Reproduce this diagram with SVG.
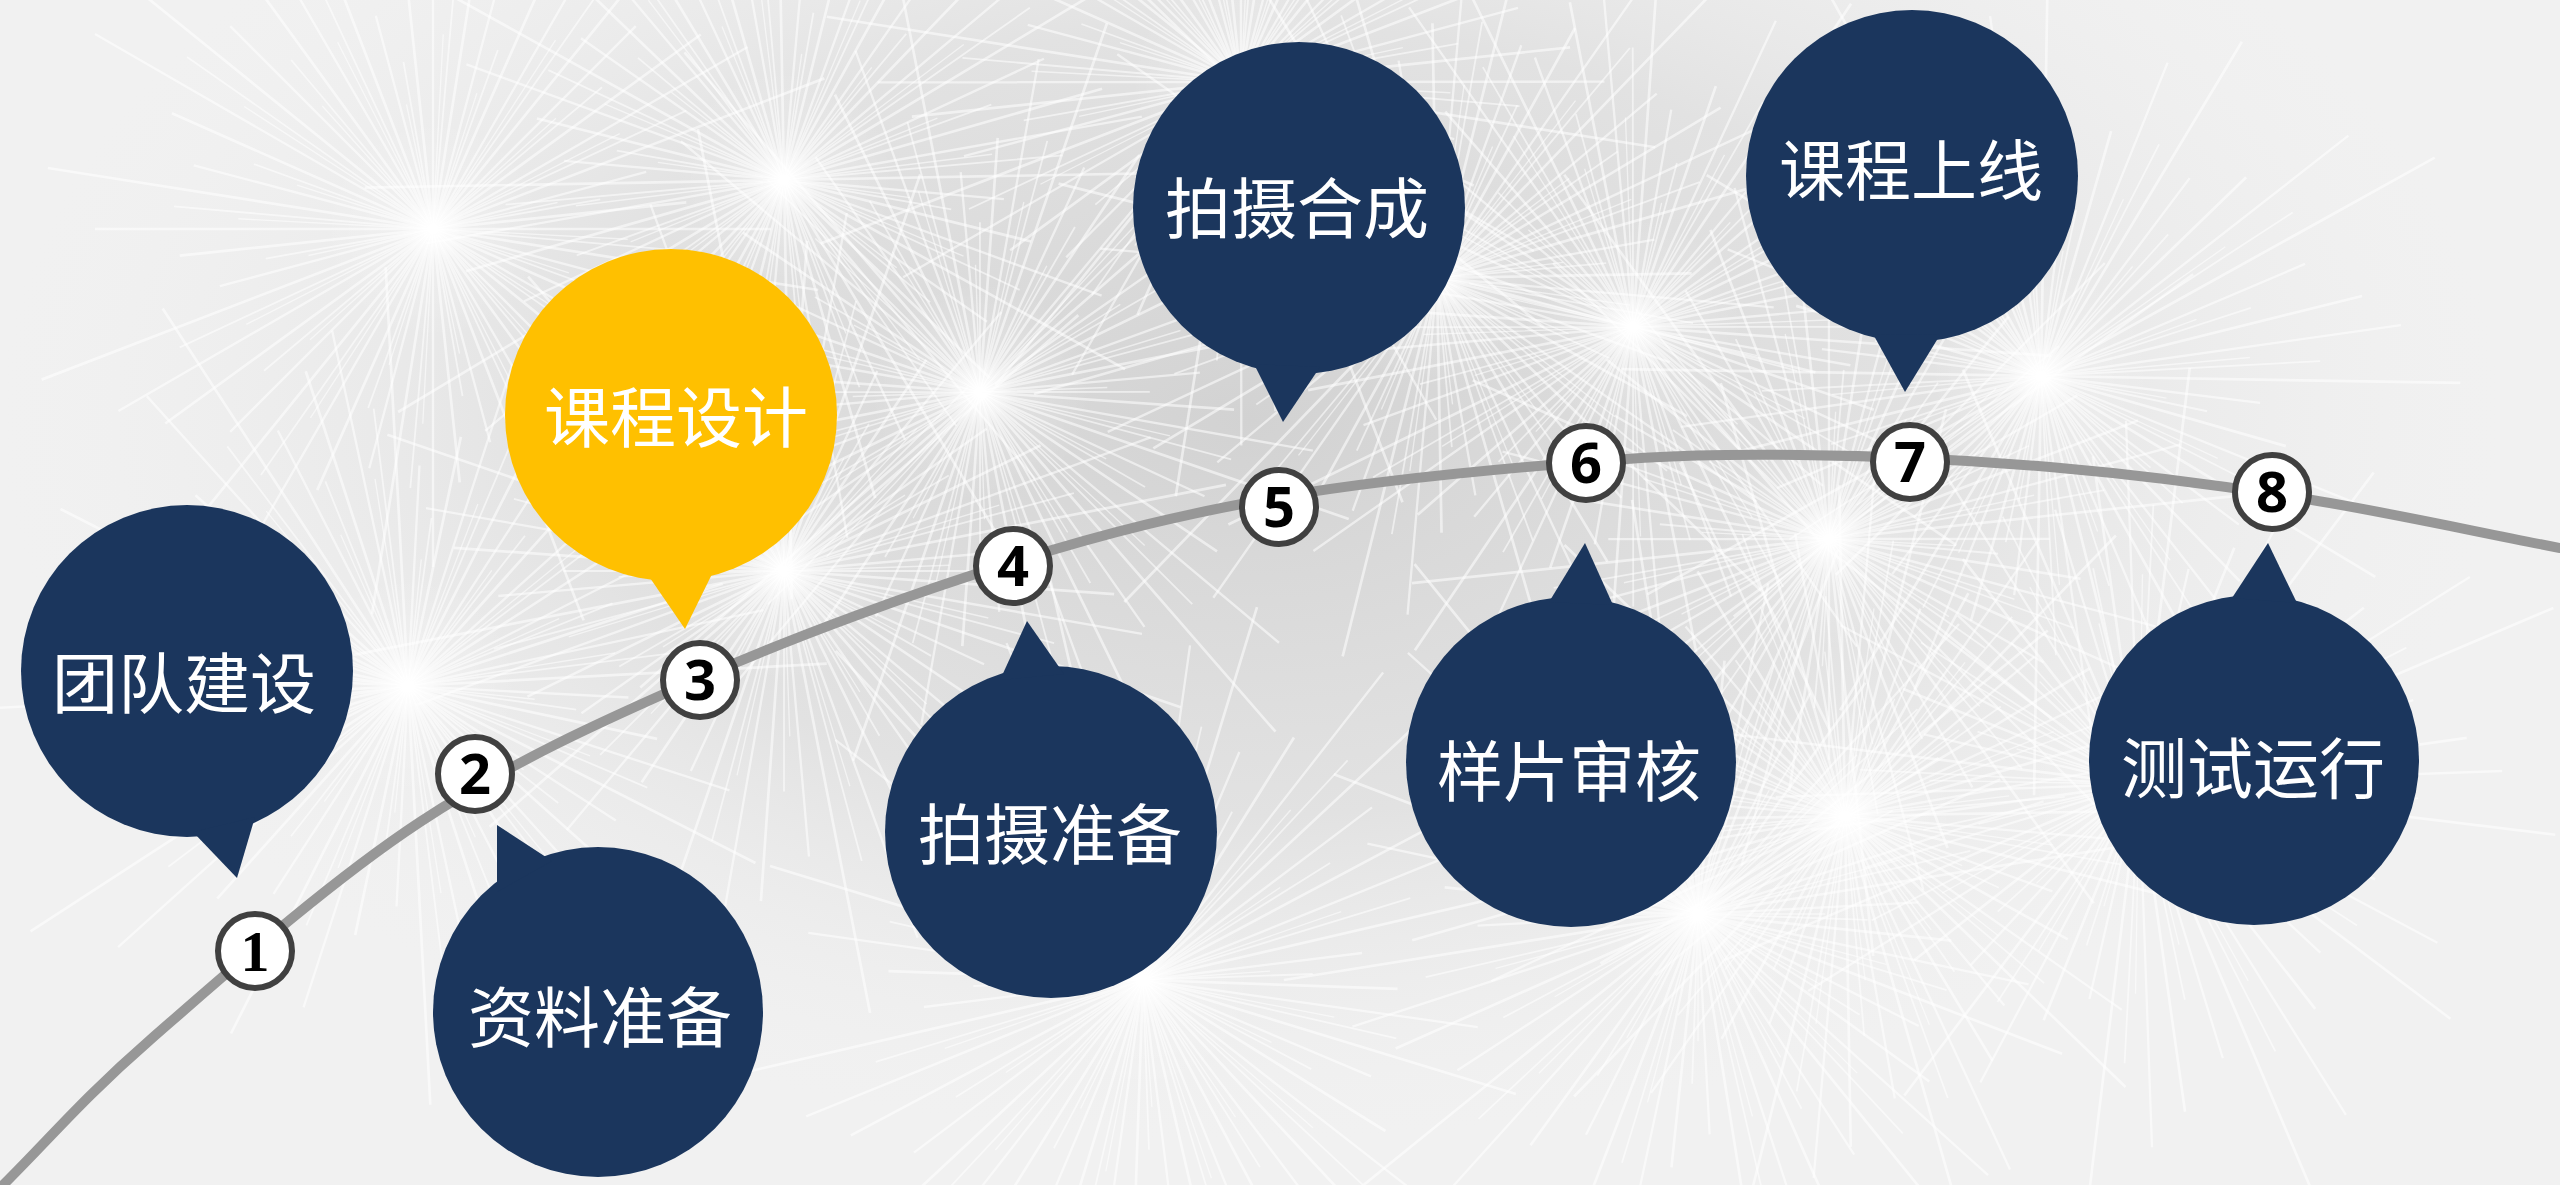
<svg xmlns="http://www.w3.org/2000/svg" xmlns:xlink="http://www.w3.org/1999/xlink" width="2560" height="1185" viewBox="0 0 2560 1185">
<style>
.bub{fill:#1b365d}
.bub.hl{fill:#ffc000}
.lbl{font-family:"Noto Sans CJK SC","Noto Sans",sans-serif;font-size:66px;fill:#ffffff;text-anchor:middle}
.dot{fill:#ffffff;stroke:#404040;stroke-width:6}
.num{font-family:"Open Sans","Liberation Sans",sans-serif;font-weight:700;font-size:56px;fill:#000000;text-anchor:middle}
.num1{font-family:"Liberation Serif",serif;font-weight:700;font-size:58px;fill:#000000;text-anchor:middle}
.track{fill:none;stroke:#979797;stroke-width:10;stroke-linecap:round}
.spk{fill:none;stroke:#ffffff;stroke-width:1.8;stroke-opacity:0.55}
</style>
<defs>
<radialGradient id="shade" cx="0.5" cy="0.5" r="0.5">
<stop offset="0" stop-color="#d2d2d2"/>
<stop offset="0.55" stop-color="#dddddd" stop-opacity="0.75"/>
<stop offset="1" stop-color="#eeeeee" stop-opacity="0"/>
</radialGradient>
<radialGradient id="glow" cx="0.5" cy="0.5" r="0.5">
<stop offset="0" stop-color="#ffffff" stop-opacity="0.7"/>
<stop offset="0.3" stop-color="#ffffff" stop-opacity="0.25"/>
<stop offset="1" stop-color="#ffffff" stop-opacity="0"/>
</radialGradient>
<path id="spokes" class="spk" d="M0,0L260,0M0,0L184,49M0,0L260,150M0,0L156,156M0,0L140,242M0,0L44,164M0,0L0,260M0,0L-49,184M0,0L-150,260M0,0L-156,156M0,0L-242,140M0,0L-164,44M0,0L-260,0M0,0L-184,-49M0,0L-260,-150M0,0L-156,-156M0,0L-140,-242M0,0L-44,-164M0,0L0,-260M0,0L49,-184M0,0L150,-260M0,0L156,-156M0,0L242,-140M0,0L164,-44"/>
<g id="burst">
<circle r="110" fill="url(#glow)"/>
<use xlink:href="#spokes" transform="scale(1.3)"/>
<use xlink:href="#spokes" transform="rotate(5) scale(1.0)"/>
<use xlink:href="#spokes" transform="rotate(9) scale(1.5)"/>
<use xlink:href="#spokes" transform="rotate(3) scale(0.75)"/>
</g>
</defs>

<g id="background">
<rect x="0" y="0" width="2560" height="1185" fill="#f1f1f1"/>
<ellipse cx="1250" cy="420" rx="1250" ry="720" fill="url(#shade)"/>
<use xlink:href="#burst" transform="translate(433,229)"/>
<use xlink:href="#burst" transform="translate(784,180) rotate(20)"/>
<use xlink:href="#burst" transform="translate(784,571) rotate(40)"/>
<use xlink:href="#burst" transform="translate(980,392) rotate(10)"/>
<use xlink:href="#burst" transform="translate(1241,82) rotate(30)"/>
<use xlink:href="#burst" transform="translate(1437,278) rotate(5)"/>
<use xlink:href="#burst" transform="translate(1633,327) rotate(25)"/>
<use xlink:href="#burst" transform="translate(1829,539) rotate(15)"/>
<use xlink:href="#burst" transform="translate(1845,816) rotate(35)"/>
<use xlink:href="#burst" transform="translate(1698,914) rotate(12)"/>
<use xlink:href="#burst" transform="translate(2041,376) rotate(22)"/>
<use xlink:href="#burst" transform="translate(1143,980) rotate(8)"/>
<use xlink:href="#burst" transform="translate(2139,784) rotate(28)"/>
<use xlink:href="#burst" transform="translate(408,686) rotate(18)"/>
</g>

<g id="connectors">
<path class="track" d="M0,1188 C50,1138.7 80,1101 150,1040 C220,979 328.3,882.3 420,822 C511.7,761.7 601.2,721.3 700,678 C798.8,634.7 916.3,592.2 1013,562 C1109.7,531.8 1184.5,513.7 1280,497 C1375.5,480.3 1499.3,469 1586,462 C1672.7,455 1722.7,454.2 1800,455 C1877.3,455.8 1966.7,459.8 2050,467 C2133.3,474.2 2215,484.5 2300,498 C2385,511.5 2473.3,531.3 2560,548"/>
</g>

<g id="step-1"><circle class="dot" cx="255" cy="951" r="37"/><text class="num1" x="255" y="971">1</text></g>
<g id="step-2"><circle class="dot" cx="475" cy="774" r="37"/><text class="num" x="475" y="794">2</text></g>
<g id="step-3"><circle class="dot" cx="700" cy="680" r="37"/><text class="num" x="700" y="700">3</text></g>
<g id="step-4"><circle class="dot" cx="1013" cy="566" r="37"/><text class="num" x="1013" y="586">4</text></g>
<g id="step-5"><circle class="dot" cx="1279" cy="507" r="37"/><text class="num" x="1279" y="527">5</text></g>
<g id="step-6"><circle class="dot" cx="1586" cy="463" r="37"/><text class="num" x="1586" y="483">6</text></g>
<g id="step-7"><circle class="dot" cx="1910" cy="462" r="37"/><text class="num" x="1910" y="482">7</text></g>
<g id="step-8"><circle class="dot" cx="2272" cy="492" r="37"/><text class="num" x="2272" y="512">8</text></g>

<g id="node-1">
<circle class="bub" cx="187" cy="671" r="166"/>
<polygon class="bub" points="193,832 255,817 237,878"/>
<text class="lbl" x="184" y="708">团队建设</text>
</g>
<g id="node-2">
<circle class="bub" cx="598" cy="1012" r="165"/>
<polygon class="bub" points="497,892 497,825 552,861"/>
<text class="lbl" x="600" y="1042">资料准备</text>
</g>
<g id="node-3">
<circle class="bub hl" cx="671" cy="415" r="166"/>
<polygon class="bub hl" points="648,575 685,629 714,570"/>
<text class="lbl" x="676" y="442">课程设计</text>
</g>
<g id="node-4">
<circle class="bub" cx="1051" cy="832" r="166"/>
<polygon class="bub" points="1000,680 1027,621 1064,674"/>
<text class="lbl" x="1050" y="859">拍摄准备</text>
</g>
<g id="node-5">
<circle class="bub" cx="1299" cy="208" r="166"/>
<polygon class="bub" points="1254,364 1283,422 1320,367"/>
<text class="lbl" x="1297" y="233">拍摄合成</text>
</g>
<g id="node-6">
<circle class="bub" cx="1571" cy="762" r="165"/>
<polygon class="bub" points="1549,602 1585,543 1613,605"/>
<text class="lbl" x="1569" y="796">样片审核</text>
</g>
<g id="node-7">
<circle class="bub" cx="1912" cy="176" r="166"/>
<polygon class="bub" points="1873,334 1905,392 1940,335"/>
<text class="lbl" x="1911" y="195">课程上线</text>
</g>
<g id="node-8">
<circle class="bub" cx="2254" cy="760" r="165"/>
<polygon class="bub" points="2232,598 2268,543 2297,603"/>
<text class="lbl" x="2253" y="793">测试运行</text>
</g>
</svg>
